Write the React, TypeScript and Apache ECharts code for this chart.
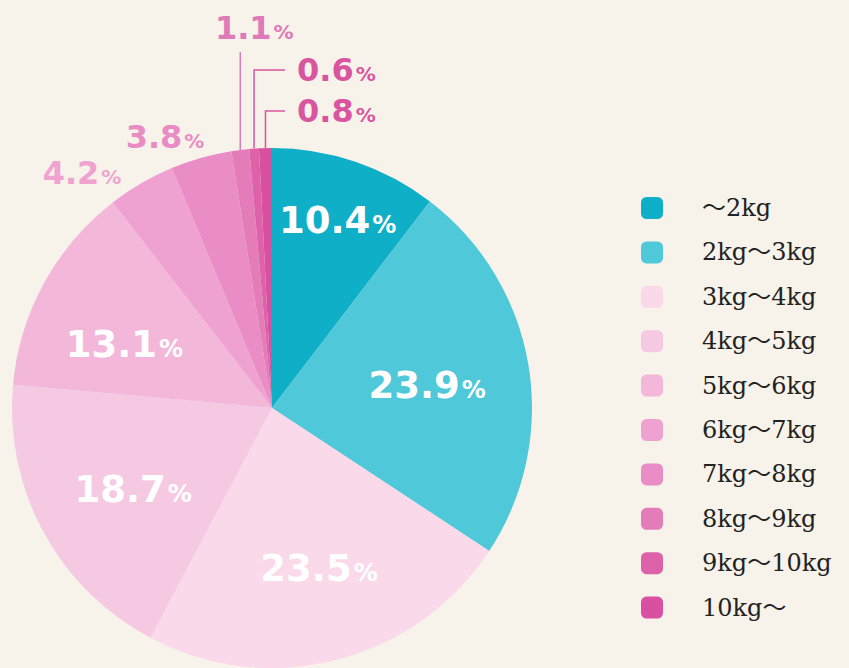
import React, { useEffect, useRef } from "react";
import * as echarts from "echarts";

const categories = ["～2kg", "2kg～3kg", "3kg～4kg", "4kg～5kg", "5kg～6kg", "6kg～7kg", "7kg～8kg", "8kg～9kg", "9kg～10kg", "10kg～"];
const shares = [10.4, 23.9, 23.5, 18.7, 13.1, 4.2, 3.8, 1.1, 0.6, 0.8];
const colors = ["#0fafc8", "#4fc8da", "#f9d9ea", "#f6c9e2", "#f3b7da", "#efa2d1", "#ea8cc5", "#e37cb9", "#de62aa", "#d8509f"];
const labelColors = ["#fff", "#fff", "#fff", "#fff", "#fff", "#f0a2d0", "#e98cc4", "#e07ab8", "#d9559f", "#d9559f"];

const CX = 272;
const CY = 408;
const R = 260;

// nudges for inside labels (styling only)
const insideNudge: Record<number, [number, number]> = {
  0: [23, -62],
  1: [24, 0],
  2: [14, 32],
  3: [-22, 18],
  4: [-31, 0],
};

function edgePoint(i: number): [number, number] {
  const total = shares.reduce((a, b) => a + b, 0);
  let cum = 0;
  for (let k = 0; k < i; k++) cum += shares[k];
  const a = ((cum + shares[i] / 2) / total) * Math.PI * 2;
  return [CX + R * Math.sin(a), CY - R * Math.cos(a)];
}

export default function App() {
  const ref = useRef<HTMLDivElement>(null);
  useEffect(() => {
    if (!ref.current) return;
    const chart = echarts.init(ref.current, undefined, { renderer: "svg" });
    const data = categories.map((name, i) => {
      const inside = i <= 4;
      return {
        name,
        value: shares[i],
        itemStyle: { color: colors[i] },
        label: inside
          ? {
              position: "inside",
              offset: insideNudge[i],
              color: labelColors[i],
              formatter: (p: any) => `{vi|${p.value}}{pi|%}`,
            }
          : { position: "outside", color: labelColors[i] },
        labelLine: { show: i >= 7, lineStyle: { color: i === 7 ? "#e07ab8" : "#d9559f", width: 1.5 } },
      };
    });
    chart.setOption({
      animation: false,
      backgroundColor: "#f7f2ea",
      legend: {
        orient: "vertical",
        left: 636,
        top: 191,
        itemWidth: 22,
        itemHeight: 22,
        itemGap: 20.4,
        icon: "roundRect",
        selectedMode: false,
        textStyle: {
          fontFamily: "DejaVu Serif, Noto Sans CJK JP, serif",
          fontSize: 24,
          color: "#222",
          padding: [0, 0, 0, 34],
        },
        data: categories,
      },
      series: [
        {
          type: "pie",
          center: [CX, CY],
          radius: R,
          startAngle: 90,
          clockwise: true,
          avoidLabelOverlap: false,
          data,
          label: {
            show: true,
            formatter: (p: any) => `{v|${p.value}}{p|%}`,
            rich: {
              v: { fontFamily: "DejaVu Sans", fontWeight: "bold", fontSize: 32 },
              p: { fontFamily: "DejaVu Sans", fontWeight: "bold", fontSize: 20, padding: [8, 0, 0, 2] },
              vi: { fontFamily: "DejaVu Sans", fontWeight: "bold", fontSize: 37 },
              pi: { fontFamily: "DejaVu Sans", fontWeight: "bold", fontSize: 24, padding: [9, 0, 0, 2] },
            },
          },
          labelLine: { show: true },
          labelLayout: (params: any) => {
            const i = params.dataIndex;
            if (i <= 4) return {};
            const [ex, ey] = edgePoint(i);
            if (i === 5) return { x: 82, y: 173, align: "center", verticalAlign: "middle" };
            if (i === 6) return { x: 165, y: 137, align: "center", verticalAlign: "middle" };
            if (i === 7)
              return {
                x: ex + 14,
                y: 28,
                align: "center",
                verticalAlign: "middle",
                labelLinePoints: [[ex, ey], [ex, 52], [ex, 52]],
              };
            const ly = i === 8 ? 70 : 111;
            return {
              x: 297,
              y: ly,
              align: "left",
              verticalAlign: "middle",
              labelLinePoints: [[ex, ey], [ex, ly], [285, ly]],
            };
          },
        },
      ],
    });
    return () => chart.dispose();
  }, []);
  return <div ref={ref} style={{ position: "fixed", left: 0, top: 0, width: 849, height: 668 }} />;
}
